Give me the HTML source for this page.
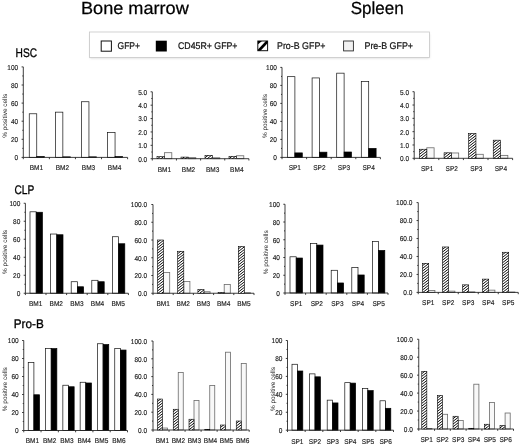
<!DOCTYPE html>
<html lang="en"><head><meta charset="utf-8"><title>Figure</title>
<style>
html,body{margin:0;padding:0;background:#fff;}
body{width:520px;height:444px;overflow:hidden;}
svg{display:block;}
.bl{filter:blur(0.45px);}
.bh{}
text{font-family:"Liberation Sans","DejaVu Sans",sans-serif;fill:#1a1a1a;text-rendering:geometricPrecision;}
.t{font-size:7.0px;stroke:#1a1a1a;stroke-width:0.15;}
.yl{font-size:6.4px;fill:#161616;}
.h{font-size:12.4px;fill:#000;stroke:#000;stroke-width:0.32;}
.ttl{font-size:17.5px;fill:#000;stroke:#000;stroke-width:0.25;}
.lg{font-size:9.7px;fill:#111;stroke:#111;stroke-width:0.22;}
.ax{stroke:#1c1c1c;stroke-width:0.85;fill:none;}
.w{fill:#fff;stroke:#111;stroke-width:0.7;}
.k{fill:#000;stroke:#000;stroke-width:0.7;}
.hh{fill:url(#hatch);stroke:#000;stroke-width:0.8;}
.p{fill:#f8f8f8;stroke:#6a6a6a;stroke-width:0.8;}
</style></head><body>
<svg width="520" height="444" viewBox="0 0 520 444">
<defs>
<pattern id="hatch" patternUnits="userSpaceOnUse" width="2.25" height="2.25" patternTransform="rotate(-45)">
<rect width="2.25" height="2.25" fill="#fff"/><rect width="2.25" height="1.25" fill="#000"/>
</pattern>
<pattern id="hatch2" patternUnits="userSpaceOnUse" width="5" height="5" patternTransform="rotate(-45)">
<rect width="5" height="5" fill="#fff"/><rect width="5" height="2.7" fill="#000"/>
</pattern>
<filter id="sh" x="-5%" y="-20%" width="110%" height="150%"><feGaussianBlur stdDeviation="0.8"/></filter>
</defs>
<rect width="520" height="444" fill="#fff"/>
<g class="bl">

<text class="ttl" x="81" y="14.3" textLength="107.8" lengthAdjust="spacingAndGlyphs">Bone marrow</text>
<text class="ttl" x="350.7" y="14.3" textLength="53" lengthAdjust="spacingAndGlyphs">Spleen</text>
<rect x="90" y="33.5" width="339.5" height="24.8" fill="#bbb" opacity="0.55" filter="url(#sh)"/>
<rect x="89.5" y="32" width="340" height="25.5" fill="#fff" stroke="#c8c8c8" stroke-width="0.8"/>
<rect x="101.2" y="41" width="10.2" height="10.2" fill="#fff" stroke="#111" stroke-width="1"/>
<text class="lg" x="117.5" y="49.3" textLength="22.5" lengthAdjust="spacingAndGlyphs">GFP+</text>
<rect x="155.8" y="40.7" width="11" height="10.8" fill="#000"/>
<text class="lg" x="178" y="49.3" textLength="59.5" lengthAdjust="spacingAndGlyphs">CD45R+ GFP+</text>
<clipPath id="sw3"><rect x="257.8" y="41" width="9.8" height="9.7"/></clipPath>
<rect x="257.8" y="41" width="9.8" height="9.7" fill="#fff" stroke="#111" stroke-width="1"/>
<g clip-path="url(#sw3)"><path d="M257.8 41h4.2l-4.2 3.6z" fill="#000"/><path d="M258.3 51.2L267.8 41" stroke="#000" stroke-width="2.7"/></g>
<text class="lg" x="277" y="49.3" textLength="48.5" lengthAdjust="spacingAndGlyphs">Pro-B GFP+</text>
<rect x="343.6" y="41" width="9.8" height="9.9" fill="#f1f1f1" stroke="#2a2a2a" stroke-width="0.9"/>
<text class="lg" x="364.5" y="49.3" textLength="48.5" lengthAdjust="spacingAndGlyphs">Pre-B GFP+</text>
<text class="h" x="15.6" y="56.8" textLength="21.5" lengthAdjust="spacingAndGlyphs">HSC</text>
<text class="h" x="14.5" y="193.6" textLength="19.8" lengthAdjust="spacingAndGlyphs">CLP</text>
<text class="h" x="13.8" y="328" textLength="30" lengthAdjust="spacingAndGlyphs">Pro-B</text>
<g>
<rect class="w" x="29.25" y="113.78" width="7.50" height="43.62"/>
<rect class="w" x="55.35" y="112.15" width="7.50" height="45.25"/>
<rect class="w" x="81.45" y="101.74" width="7.50" height="55.66"/>
<rect class="w" x="107.55" y="132.51" width="7.50" height="24.89"/>
<rect class="k" x="36.75" y="156.50" width="7.50" height="0.91"/>
<rect class="k" x="62.85" y="156.86" width="7.50" height="0.54"/>
<rect class="k" x="88.95" y="156.86" width="7.50" height="0.54"/>
<rect class="k" x="115.05" y="156.59" width="7.50" height="0.81"/>
<path class="ax" d="M23.30 66.90V157.40H127.60M21.60 157.40h1.70M22.30 148.35h1.00M21.60 139.30h1.70M22.30 130.25h1.00M21.60 121.20h1.70M22.30 112.15h1.00M21.60 103.10h1.70M22.30 94.05h1.00M21.60 85.00h1.70M22.30 75.95h1.00M21.60 66.90h1.70M23.30 157.40v1.8M49.38 157.40v1.8M75.45 157.40v1.8M101.52 157.40v1.8M127.60 157.40v1.8"/>
<text class="t" transform="translate(18.20 160.25) scale(0.93 1)" text-anchor="end">0</text>
<text class="t" transform="translate(18.20 142.15) scale(0.93 1)" text-anchor="end">20</text>
<text class="t" transform="translate(18.20 124.05) scale(0.93 1)" text-anchor="end">40</text>
<text class="t" transform="translate(18.20 105.95) scale(0.93 1)" text-anchor="end">60</text>
<text class="t" transform="translate(18.20 87.85) scale(0.93 1)" text-anchor="end">80</text>
<text class="t" transform="translate(18.20 69.75) scale(0.93 1)" text-anchor="end">100</text>
<text class="t" transform="translate(36.34 170.35) scale(0.93 1)" text-anchor="middle">BM1</text>
<text class="t" transform="translate(62.41 170.35) scale(0.93 1)" text-anchor="middle">BM2</text>
<text class="t" transform="translate(88.49 170.35) scale(0.93 1)" text-anchor="middle">BM3</text>
<text class="t" transform="translate(114.56 170.35) scale(0.93 1)" text-anchor="middle">BM4</text>
<text class="yl" transform="translate(6.60 115.85) rotate(-90)" text-anchor="middle" textLength="44" lengthAdjust="spacingAndGlyphs">% positive cells</text>
</g>
<g>
<rect class="p" x="164.40" y="152.68" width="7.40" height="6.02"/>
<rect class="p" x="188.40" y="157.63" width="7.40" height="1.07"/>
<rect class="p" x="212.40" y="157.76" width="7.40" height="0.94"/>
<rect class="p" x="236.40" y="155.76" width="7.40" height="2.94"/>
<path class="ax" d="M152.30 91.80V158.70H248.90M150.60 158.70h1.70M151.30 152.01h1.00M150.60 145.32h1.70M151.30 138.63h1.00M150.60 131.94h1.70M151.30 125.25h1.00M150.60 118.56h1.70M151.30 111.87h1.00M150.60 105.18h1.70M151.30 98.49h1.00M150.60 91.80h1.70M152.30 158.70v1.8M176.45 158.70v1.8M200.60 158.70v1.8M224.75 158.70v1.8M248.90 158.70v1.8"/>
<text class="t" transform="translate(147.20 161.55) scale(0.93 1)" text-anchor="end">0.0</text>
<text class="t" transform="translate(147.20 148.17) scale(0.93 1)" text-anchor="end">1.0</text>
<text class="t" transform="translate(147.20 134.79) scale(0.93 1)" text-anchor="end">2.0</text>
<text class="t" transform="translate(147.20 121.41) scale(0.93 1)" text-anchor="end">3.0</text>
<text class="t" transform="translate(147.20 108.03) scale(0.93 1)" text-anchor="end">4.0</text>
<text class="t" transform="translate(147.20 94.65) scale(0.93 1)" text-anchor="end">5.0</text>
<text class="t" transform="translate(164.38 171.65) scale(0.93 1)" text-anchor="middle">BM1</text>
<text class="t" transform="translate(188.53 171.65) scale(0.93 1)" text-anchor="middle">BM2</text>
<text class="t" transform="translate(212.68 171.65) scale(0.93 1)" text-anchor="middle">BM3</text>
<text class="t" transform="translate(236.82 171.65) scale(0.93 1)" text-anchor="middle">BM4</text>
</g>
<g>
<rect class="w" x="287.50" y="76.67" width="7.40" height="80.73"/>
<rect class="w" x="312.10" y="77.93" width="7.40" height="79.47"/>
<rect class="w" x="336.70" y="73.16" width="7.40" height="84.24"/>
<rect class="w" x="361.30" y="81.44" width="7.40" height="75.96"/>
<rect class="k" x="294.90" y="152.90" width="7.40" height="4.50"/>
<rect class="k" x="319.50" y="152.18" width="7.40" height="5.22"/>
<rect class="k" x="344.10" y="152.00" width="7.40" height="5.40"/>
<rect class="k" x="368.70" y="148.40" width="7.40" height="9.00"/>
<path class="ax" d="M282.00 67.40V157.40H380.40M280.30 157.40h1.70M281.00 148.40h1.00M280.30 139.40h1.70M281.00 130.40h1.00M280.30 121.40h1.70M281.00 112.40h1.00M280.30 103.40h1.70M281.00 94.40h1.00M280.30 85.40h1.70M281.00 76.40h1.00M280.30 67.40h1.70M282.00 157.40v1.8M306.60 157.40v1.8M331.20 157.40v1.8M355.80 157.40v1.8M380.40 157.40v1.8"/>
<text class="t" transform="translate(276.90 160.25) scale(0.93 1)" text-anchor="end">0</text>
<text class="t" transform="translate(276.90 142.25) scale(0.93 1)" text-anchor="end">20</text>
<text class="t" transform="translate(276.90 124.25) scale(0.93 1)" text-anchor="end">40</text>
<text class="t" transform="translate(276.90 106.25) scale(0.93 1)" text-anchor="end">60</text>
<text class="t" transform="translate(276.90 88.25) scale(0.93 1)" text-anchor="end">80</text>
<text class="t" transform="translate(276.90 70.25) scale(0.93 1)" text-anchor="end">100</text>
<text class="t" transform="translate(294.80 170.35) scale(0.93 1)" text-anchor="middle">SP1</text>
<text class="t" transform="translate(319.40 170.35) scale(0.93 1)" text-anchor="middle">SP2</text>
<text class="t" transform="translate(344.00 170.35) scale(0.93 1)" text-anchor="middle">SP3</text>
<text class="t" transform="translate(368.60 170.35) scale(0.93 1)" text-anchor="middle">SP4</text>
<text class="yl" transform="translate(266.60 116.10) rotate(-90)" text-anchor="middle" textLength="44" lengthAdjust="spacingAndGlyphs">% positive cells</text>
</g>
<g>
<rect class="p" x="426.80" y="147.78" width="7.30" height="10.52"/>
<rect class="p" x="451.38" y="152.97" width="7.30" height="5.33"/>
<rect class="p" x="475.96" y="154.30" width="7.30" height="4.00"/>
<rect class="p" x="500.54" y="155.37" width="7.30" height="2.93"/>
<path class="ax" d="M414.20 91.70V158.30H512.60M412.50 158.30h1.70M413.20 151.64h1.00M412.50 144.98h1.70M413.20 138.32h1.00M412.50 131.66h1.70M413.20 125.00h1.00M412.50 118.34h1.70M413.20 111.68h1.00M412.50 105.02h1.70M413.20 98.36h1.00M412.50 91.70h1.70M414.20 158.30v1.8M438.80 158.30v1.8M463.40 158.30v1.8M488.00 158.30v1.8M512.60 158.30v1.8"/>
<text class="t" transform="translate(409.10 161.15) scale(0.93 1)" text-anchor="end">0.0</text>
<text class="t" transform="translate(409.10 147.83) scale(0.93 1)" text-anchor="end">1.0</text>
<text class="t" transform="translate(409.10 134.51) scale(0.93 1)" text-anchor="end">2.0</text>
<text class="t" transform="translate(409.10 121.19) scale(0.93 1)" text-anchor="end">3.0</text>
<text class="t" transform="translate(409.10 107.87) scale(0.93 1)" text-anchor="end">4.0</text>
<text class="t" transform="translate(409.10 94.55) scale(0.93 1)" text-anchor="end">5.0</text>
<text class="t" transform="translate(427.10 171.25) scale(0.93 1)" text-anchor="middle">SP1</text>
<text class="t" transform="translate(451.70 171.25) scale(0.93 1)" text-anchor="middle">SP2</text>
<text class="t" transform="translate(476.30 171.25) scale(0.93 1)" text-anchor="middle">SP3</text>
<text class="t" transform="translate(500.90 171.25) scale(0.93 1)" text-anchor="middle">SP4</text>
</g>
<g>
<rect class="w" x="30.00" y="211.80" width="6.20" height="81.45"/>
<rect class="w" x="50.60" y="234.03" width="6.20" height="59.22"/>
<rect class="w" x="71.20" y="281.73" width="6.20" height="11.52"/>
<rect class="w" x="91.80" y="280.29" width="6.20" height="12.96"/>
<rect class="w" x="112.40" y="236.73" width="6.20" height="56.52"/>
<rect class="k" x="36.20" y="212.25" width="6.20" height="81.00"/>
<rect class="k" x="56.80" y="234.75" width="6.20" height="58.50"/>
<rect class="k" x="77.40" y="286.77" width="6.20" height="6.48"/>
<rect class="k" x="98.00" y="281.73" width="6.20" height="11.52"/>
<rect class="k" x="118.60" y="243.75" width="6.20" height="49.50"/>
<path class="ax" d="M25.40 203.25V293.25H128.40M23.70 293.25h1.70M24.40 284.25h1.00M23.70 275.25h1.70M24.40 266.25h1.00M23.70 257.25h1.70M24.40 248.25h1.00M23.70 239.25h1.70M24.40 230.25h1.00M23.70 221.25h1.70M24.40 212.25h1.00M23.70 203.25h1.70M25.40 293.25v1.8M46.00 293.25v1.8M66.60 293.25v1.8M87.20 293.25v1.8M107.80 293.25v1.8M128.40 293.25v1.8"/>
<text class="t" transform="translate(20.30 296.10) scale(0.93 1)" text-anchor="end">0</text>
<text class="t" transform="translate(20.30 278.10) scale(0.93 1)" text-anchor="end">20</text>
<text class="t" transform="translate(20.30 260.10) scale(0.93 1)" text-anchor="end">40</text>
<text class="t" transform="translate(20.30 242.10) scale(0.93 1)" text-anchor="end">60</text>
<text class="t" transform="translate(20.30 224.10) scale(0.93 1)" text-anchor="end">80</text>
<text class="t" transform="translate(20.30 206.10) scale(0.93 1)" text-anchor="end">100</text>
<text class="t" transform="translate(35.70 305.80) scale(0.93 1)" text-anchor="middle">BM1</text>
<text class="t" transform="translate(56.30 305.80) scale(0.93 1)" text-anchor="middle">BM2</text>
<text class="t" transform="translate(76.90 305.80) scale(0.93 1)" text-anchor="middle">BM3</text>
<text class="t" transform="translate(97.50 305.80) scale(0.93 1)" text-anchor="middle">BM4</text>
<text class="t" transform="translate(118.10 305.80) scale(0.93 1)" text-anchor="middle">BM5</text>
<text class="yl" transform="translate(7.10 251.95) rotate(-90)" text-anchor="middle" textLength="44" lengthAdjust="spacingAndGlyphs">% positive cells</text>
</g>
<g>
<rect class="p" x="163.60" y="272.48" width="6.10" height="20.77"/>
<rect class="p" x="183.80" y="281.54" width="6.10" height="11.71"/>
<rect class="p" x="204.00" y="291.74" width="6.10" height="1.51"/>
<rect class="p" x="224.20" y="284.46" width="6.10" height="8.79"/>
<rect class="p" x="244.40" y="292.72" width="6.10" height="0.53"/>
<path class="ax" d="M153.00 204.50V293.25H254.00M151.30 293.25h1.70M152.00 284.38h1.00M151.30 275.50h1.70M152.00 266.62h1.00M151.30 257.75h1.70M152.00 248.88h1.00M151.30 240.00h1.70M152.00 231.12h1.00M151.30 222.25h1.70M152.00 213.38h1.00M151.30 204.50h1.70M153.00 293.25v1.8M173.20 293.25v1.8M193.40 293.25v1.8M213.60 293.25v1.8M233.80 293.25v1.8M254.00 293.25v1.8"/>
<text class="t" transform="translate(147.10 296.10) scale(0.93 1)" text-anchor="end">0.0</text>
<text class="t" transform="translate(147.10 278.35) scale(0.93 1)" text-anchor="end">20.0</text>
<text class="t" transform="translate(147.10 260.60) scale(0.93 1)" text-anchor="end">40.0</text>
<text class="t" transform="translate(147.10 242.85) scale(0.93 1)" text-anchor="end">60.0</text>
<text class="t" transform="translate(147.10 225.10) scale(0.93 1)" text-anchor="end">80.0</text>
<text class="t" transform="translate(147.10 207.35) scale(0.93 1)" text-anchor="end">100.0</text>
<text class="t" transform="translate(163.10 305.70) scale(0.93 1)" text-anchor="middle">BM1</text>
<text class="t" transform="translate(183.30 305.70) scale(0.93 1)" text-anchor="middle">BM2</text>
<text class="t" transform="translate(203.50 305.70) scale(0.93 1)" text-anchor="middle">BM3</text>
<text class="t" transform="translate(223.70 305.70) scale(0.93 1)" text-anchor="middle">BM4</text>
<text class="t" transform="translate(243.90 305.70) scale(0.93 1)" text-anchor="middle">BM5</text>
</g>
<g>
<rect class="w" x="290.00" y="256.79" width="6.20" height="36.21"/>
<rect class="w" x="310.60" y="243.48" width="6.20" height="49.52"/>
<rect class="w" x="331.20" y="270.28" width="6.20" height="22.72"/>
<rect class="w" x="351.80" y="267.53" width="6.20" height="25.47"/>
<rect class="w" x="372.40" y="241.53" width="6.20" height="51.47"/>
<rect class="k" x="296.20" y="258.03" width="6.20" height="34.97"/>
<rect class="k" x="316.80" y="245.07" width="6.20" height="47.93"/>
<rect class="k" x="337.40" y="282.97" width="6.20" height="10.03"/>
<rect class="k" x="358.00" y="274.98" width="6.20" height="18.02"/>
<rect class="k" x="378.60" y="250.49" width="6.20" height="42.51"/>
<path class="ax" d="M285.00 204.25V293.00H388.00M283.30 293.00h1.70M284.00 284.12h1.00M283.30 275.25h1.70M284.00 266.38h1.00M283.30 257.50h1.70M284.00 248.62h1.00M283.30 239.75h1.70M284.00 230.88h1.00M283.30 222.00h1.70M284.00 213.12h1.00M283.30 204.25h1.70M285.00 293.00v1.8M305.60 293.00v1.8M326.20 293.00v1.8M346.80 293.00v1.8M367.40 293.00v1.8M388.00 293.00v1.8"/>
<text class="t" transform="translate(279.90 295.85) scale(0.93 1)" text-anchor="end">0</text>
<text class="t" transform="translate(279.90 278.10) scale(0.93 1)" text-anchor="end">20</text>
<text class="t" transform="translate(279.90 260.35) scale(0.93 1)" text-anchor="end">40</text>
<text class="t" transform="translate(279.90 242.60) scale(0.93 1)" text-anchor="end">60</text>
<text class="t" transform="translate(279.90 224.85) scale(0.93 1)" text-anchor="end">80</text>
<text class="t" transform="translate(279.90 207.10) scale(0.93 1)" text-anchor="end">100</text>
<text class="t" transform="translate(296.20 305.95) scale(0.93 1)" text-anchor="middle">SP1</text>
<text class="t" transform="translate(316.80 305.95) scale(0.93 1)" text-anchor="middle">SP2</text>
<text class="t" transform="translate(337.40 305.95) scale(0.93 1)" text-anchor="middle">SP3</text>
<text class="t" transform="translate(358.00 305.95) scale(0.93 1)" text-anchor="middle">SP4</text>
<text class="t" transform="translate(378.60 305.95) scale(0.93 1)" text-anchor="middle">SP5</text>
<text class="yl" transform="translate(268.35 252.32) rotate(-90)" text-anchor="middle" textLength="44" lengthAdjust="spacingAndGlyphs">% positive cells</text>
</g>
<g>
<rect class="p" x="428.70" y="290.42" width="6.20" height="1.98"/>
<rect class="p" x="448.70" y="291.14" width="6.20" height="1.26"/>
<rect class="p" x="468.70" y="291.86" width="6.20" height="0.54"/>
<rect class="p" x="488.70" y="290.15" width="6.20" height="2.24"/>
<rect class="p" x="508.70" y="292.00" width="6.20" height="0.40"/>
<path class="ax" d="M418.25 202.60V292.40H518.25M416.55 292.40h1.70M417.25 283.42h1.00M416.55 274.44h1.70M417.25 265.46h1.00M416.55 256.48h1.70M417.25 247.50h1.00M416.55 238.52h1.70M417.25 229.54h1.00M416.55 220.56h1.70M417.25 211.58h1.00M416.55 202.60h1.70M418.25 292.40v1.8M438.25 292.40v1.8M458.25 292.40v1.8M478.25 292.40v1.8M498.25 292.40v1.8M518.25 292.40v1.8"/>
<text class="t" transform="translate(412.35 295.25) scale(0.93 1)" text-anchor="end">0.0</text>
<text class="t" transform="translate(412.35 277.29) scale(0.93 1)" text-anchor="end">20.0</text>
<text class="t" transform="translate(412.35 259.33) scale(0.93 1)" text-anchor="end">40.0</text>
<text class="t" transform="translate(412.35 241.37) scale(0.93 1)" text-anchor="end">60.0</text>
<text class="t" transform="translate(412.35 223.41) scale(0.93 1)" text-anchor="end">80.0</text>
<text class="t" transform="translate(412.35 205.45) scale(0.93 1)" text-anchor="end">100.0</text>
<text class="t" transform="translate(428.25 304.55) scale(0.93 1)" text-anchor="middle">SP1</text>
<text class="t" transform="translate(448.25 304.55) scale(0.93 1)" text-anchor="middle">SP2</text>
<text class="t" transform="translate(468.25 304.55) scale(0.93 1)" text-anchor="middle">SP3</text>
<text class="t" transform="translate(488.25 304.55) scale(0.93 1)" text-anchor="middle">SP4</text>
<text class="t" transform="translate(508.25 304.55) scale(0.93 1)" text-anchor="middle">SP5</text>
</g>
<g>
<rect class="w" x="28.25" y="362.55" width="5.65" height="67.95"/>
<rect class="w" x="45.55" y="348.60" width="5.65" height="81.90"/>
<rect class="w" x="62.85" y="385.23" width="5.65" height="45.27"/>
<rect class="w" x="80.15" y="382.26" width="5.65" height="48.24"/>
<rect class="w" x="97.45" y="343.74" width="5.65" height="86.76"/>
<rect class="w" x="114.75" y="348.60" width="5.65" height="81.90"/>
<rect class="k" x="33.90" y="394.77" width="5.65" height="35.73"/>
<rect class="k" x="51.20" y="348.60" width="5.65" height="81.90"/>
<rect class="k" x="68.50" y="386.76" width="5.65" height="43.74"/>
<rect class="k" x="85.80" y="382.98" width="5.65" height="47.52"/>
<rect class="k" x="103.10" y="344.55" width="5.65" height="85.95"/>
<rect class="k" x="120.40" y="350.04" width="5.65" height="80.46"/>
<path class="ax" d="M23.75 340.50V430.50H127.50M22.05 430.50h1.70M22.75 421.50h1.00M22.05 412.50h1.70M22.75 403.50h1.00M22.05 394.50h1.70M22.75 385.50h1.00M22.05 376.50h1.70M22.75 367.50h1.00M22.05 358.50h1.70M22.75 349.50h1.00M22.05 340.50h1.70M23.75 430.50v1.8M41.04 430.50v1.8M58.33 430.50v1.8M75.62 430.50v1.8M92.92 430.50v1.8M110.21 430.50v1.8M127.50 430.50v1.8"/>
<text class="t" transform="translate(18.65 433.35) scale(0.93 1)" text-anchor="end">0</text>
<text class="t" transform="translate(18.65 415.35) scale(0.93 1)" text-anchor="end">20</text>
<text class="t" transform="translate(18.65 397.35) scale(0.93 1)" text-anchor="end">40</text>
<text class="t" transform="translate(18.65 379.35) scale(0.93 1)" text-anchor="end">60</text>
<text class="t" transform="translate(18.65 361.35) scale(0.93 1)" text-anchor="end">80</text>
<text class="t" transform="translate(18.65 343.35) scale(0.93 1)" text-anchor="end">100</text>
<text class="t" transform="translate(32.40 443.45) scale(0.93 1)" text-anchor="middle">BM1</text>
<text class="t" transform="translate(49.69 443.45) scale(0.93 1)" text-anchor="middle">BM2</text>
<text class="t" transform="translate(66.98 443.45) scale(0.93 1)" text-anchor="middle">BM3</text>
<text class="t" transform="translate(84.27 443.45) scale(0.93 1)" text-anchor="middle">BM4</text>
<text class="t" transform="translate(101.56 443.45) scale(0.93 1)" text-anchor="middle">BM5</text>
<text class="t" transform="translate(118.85 443.45) scale(0.93 1)" text-anchor="middle">BM6</text>
<text class="yl" transform="translate(6.60 389.20) rotate(-90)" text-anchor="middle" textLength="44" lengthAdjust="spacingAndGlyphs">% positive cells</text>
</g>
<g>
<rect class="p" x="162.50" y="428.04" width="5.00" height="1.96"/>
<rect class="p" x="178.25" y="372.51" width="5.00" height="57.49"/>
<rect class="p" x="194.00" y="400.54" width="5.00" height="29.46"/>
<rect class="p" x="209.75" y="385.50" width="5.00" height="44.50"/>
<rect class="p" x="225.50" y="352.21" width="5.00" height="77.79"/>
<rect class="p" x="241.25" y="363.52" width="5.00" height="66.48"/>
<path class="ax" d="M153.00 341.00V430.00H249.20M151.30 430.00h1.70M152.00 421.10h1.00M151.30 412.20h1.70M152.00 403.30h1.00M151.30 394.40h1.70M152.00 385.50h1.00M151.30 376.60h1.70M152.00 367.70h1.00M151.30 358.80h1.70M152.00 349.90h1.00M151.30 341.00h1.70M153.00 430.00v1.8M169.03 430.00v1.8M185.07 430.00v1.8M201.10 430.00v1.8M217.13 430.00v1.8M233.17 430.00v1.8M249.20 430.00v1.8"/>
<text class="t" transform="translate(147.10 432.85) scale(0.93 1)" text-anchor="end">0.0</text>
<text class="t" transform="translate(147.10 415.05) scale(0.93 1)" text-anchor="end">20.0</text>
<text class="t" transform="translate(147.10 397.25) scale(0.93 1)" text-anchor="end">40.0</text>
<text class="t" transform="translate(147.10 379.45) scale(0.93 1)" text-anchor="end">60.0</text>
<text class="t" transform="translate(147.10 361.65) scale(0.93 1)" text-anchor="end">80.0</text>
<text class="t" transform="translate(147.10 343.85) scale(0.93 1)" text-anchor="end">100.0</text>
<text class="t" transform="translate(162.42 442.95) scale(0.93 1)" text-anchor="middle">BM1</text>
<text class="t" transform="translate(178.45 442.95) scale(0.93 1)" text-anchor="middle">BM2</text>
<text class="t" transform="translate(194.48 442.95) scale(0.93 1)" text-anchor="middle">BM3</text>
<text class="t" transform="translate(210.52 442.95) scale(0.93 1)" text-anchor="middle">BM4</text>
<text class="t" transform="translate(226.55 442.95) scale(0.93 1)" text-anchor="middle">BM5</text>
<text class="t" transform="translate(242.58 442.95) scale(0.93 1)" text-anchor="middle">BM6</text>
</g>
<g>
<rect class="w" x="292.00" y="364.27" width="5.40" height="65.93"/>
<rect class="w" x="309.60" y="373.87" width="5.40" height="56.33"/>
<rect class="w" x="327.20" y="400.15" width="5.40" height="30.05"/>
<rect class="w" x="344.80" y="382.66" width="5.40" height="47.54"/>
<rect class="w" x="362.40" y="388.58" width="5.40" height="41.62"/>
<rect class="w" x="380.00" y="400.78" width="5.40" height="29.42"/>
<rect class="k" x="297.40" y="371.00" width="5.40" height="59.20"/>
<rect class="k" x="315.00" y="376.83" width="5.40" height="53.37"/>
<rect class="k" x="332.60" y="402.93" width="5.40" height="27.27"/>
<rect class="k" x="350.20" y="383.11" width="5.40" height="47.09"/>
<rect class="k" x="367.80" y="390.64" width="5.40" height="39.56"/>
<rect class="k" x="385.40" y="408.31" width="5.40" height="21.89"/>
<path class="ax" d="M287.50 340.50V430.20H393.50M285.80 430.20h1.70M286.50 421.23h1.00M285.80 412.26h1.70M286.50 403.29h1.00M285.80 394.32h1.70M286.50 385.35h1.00M285.80 376.38h1.70M286.50 367.41h1.00M285.80 358.44h1.70M286.50 349.47h1.00M285.80 340.50h1.70M287.50 430.20v1.8M305.17 430.20v1.8M322.83 430.20v1.8M340.50 430.20v1.8M358.17 430.20v1.8M375.83 430.20v1.8M393.50 430.20v1.8"/>
<text class="t" transform="translate(282.40 433.05) scale(0.93 1)" text-anchor="end">0</text>
<text class="t" transform="translate(282.40 415.11) scale(0.93 1)" text-anchor="end">20</text>
<text class="t" transform="translate(282.40 397.17) scale(0.93 1)" text-anchor="end">40</text>
<text class="t" transform="translate(282.40 379.23) scale(0.93 1)" text-anchor="end">60</text>
<text class="t" transform="translate(282.40 361.29) scale(0.93 1)" text-anchor="end">80</text>
<text class="t" transform="translate(282.40 343.35) scale(0.93 1)" text-anchor="end">100</text>
<text class="t" transform="translate(297.33 443.65) scale(0.93 1)" text-anchor="middle">SP1</text>
<text class="t" transform="translate(315.00 443.65) scale(0.93 1)" text-anchor="middle">SP2</text>
<text class="t" transform="translate(332.67 443.65) scale(0.93 1)" text-anchor="middle">SP3</text>
<text class="t" transform="translate(350.33 443.65) scale(0.93 1)" text-anchor="middle">SP4</text>
<text class="t" transform="translate(368.00 443.65) scale(0.93 1)" text-anchor="middle">SP5</text>
<text class="t" transform="translate(385.67 443.65) scale(0.93 1)" text-anchor="middle">SP6</text>
<text class="yl" transform="translate(275.10 389.05) rotate(-90)" text-anchor="middle" textLength="44" lengthAdjust="spacingAndGlyphs">% positive cells</text>
</g>
<g>
<rect class="p" x="426.85" y="428.55" width="5.10" height="0.45"/>
<rect class="p" x="442.50" y="414.28" width="5.10" height="14.72"/>
<rect class="p" x="458.15" y="420.47" width="5.10" height="8.53"/>
<rect class="p" x="473.80" y="384.21" width="5.10" height="44.79"/>
<rect class="p" x="489.45" y="402.52" width="5.10" height="26.48"/>
<rect class="p" x="505.10" y="413.02" width="5.10" height="15.98"/>
<path class="ax" d="M418.75 339.25V429.00H513.50M417.05 429.00h1.70M417.75 420.02h1.00M417.05 411.05h1.70M417.75 402.07h1.00M417.05 393.10h1.70M417.75 384.12h1.00M417.05 375.15h1.70M417.75 366.18h1.00M417.05 357.20h1.70M417.75 348.23h1.00M417.05 339.25h1.70M418.75 429.00v1.8M434.54 429.00v1.8M450.33 429.00v1.8M466.12 429.00v1.8M481.92 429.00v1.8M497.71 429.00v1.8M513.50 429.00v1.8"/>
<text class="t" transform="translate(412.85 431.85) scale(0.93 1)" text-anchor="end">0.0</text>
<text class="t" transform="translate(412.85 413.90) scale(0.93 1)" text-anchor="end">20.0</text>
<text class="t" transform="translate(412.85 395.95) scale(0.93 1)" text-anchor="end">40.0</text>
<text class="t" transform="translate(412.85 378.00) scale(0.93 1)" text-anchor="end">60.0</text>
<text class="t" transform="translate(412.85 360.05) scale(0.93 1)" text-anchor="end">80.0</text>
<text class="t" transform="translate(412.85 342.10) scale(0.93 1)" text-anchor="end">100.0</text>
<text class="t" transform="translate(426.65 441.95) scale(0.93 1)" text-anchor="middle">SP1</text>
<text class="t" transform="translate(442.44 441.95) scale(0.93 1)" text-anchor="middle">SP2</text>
<text class="t" transform="translate(458.23 441.95) scale(0.93 1)" text-anchor="middle">SP3</text>
<text class="t" transform="translate(474.02 441.95) scale(0.93 1)" text-anchor="middle">SP4</text>
<text class="t" transform="translate(489.81 441.95) scale(0.93 1)" text-anchor="middle">SP5</text>
<text class="t" transform="translate(505.60 441.95) scale(0.93 1)" text-anchor="middle">SP6</text>
</g>
</g>
<g class="bh">
<clipPath id="c0"><rect x="157.00" y="156.69" width="7.40" height="2.01"/></clipPath><rect x="157.00" y="156.69" width="7.40" height="2.01" fill="#fff"/><path d="M156.50 156.78l8.40 -6.55M156.50 159.48l8.40 -6.55M156.50 162.18l8.40 -6.55M156.50 164.88l8.40 -6.55" clip-path="url(#c0)" stroke="#000" stroke-width="0.95" fill="none"/><rect x="157.00" y="156.69" width="7.40" height="2.01" fill="none" stroke="#000" stroke-width="0.6"/>
<clipPath id="c1"><rect x="181.00" y="157.09" width="7.40" height="1.61"/></clipPath><rect x="181.00" y="157.09" width="7.40" height="1.61" fill="#fff"/><path d="M180.50 157.18l8.40 -6.55M180.50 159.88l8.40 -6.55M180.50 162.58l8.40 -6.55M180.50 165.28l8.40 -6.55" clip-path="url(#c1)" stroke="#000" stroke-width="0.95" fill="none"/><rect x="181.00" y="157.09" width="7.40" height="1.61" fill="none" stroke="#000" stroke-width="0.6"/>
<clipPath id="c2"><rect x="205.00" y="155.35" width="7.40" height="3.34"/></clipPath><rect x="205.00" y="155.35" width="7.40" height="3.34" fill="#fff"/><path d="M204.50 155.44l8.40 -6.55M204.50 158.14l8.40 -6.55M204.50 160.84l8.40 -6.55M204.50 163.54l8.40 -6.55M204.50 166.24l8.40 -6.55" clip-path="url(#c2)" stroke="#000" stroke-width="0.95" fill="none"/><rect x="205.00" y="155.35" width="7.40" height="3.34" fill="none" stroke="#000" stroke-width="0.6"/>
<clipPath id="c3"><rect x="229.00" y="156.29" width="7.40" height="2.41"/></clipPath><rect x="229.00" y="156.29" width="7.40" height="2.41" fill="#fff"/><path d="M228.50 156.38l8.40 -6.55M228.50 159.08l8.40 -6.55M228.50 161.78l8.40 -6.55M228.50 164.48l8.40 -6.55M228.50 167.18l8.40 -6.55" clip-path="url(#c3)" stroke="#000" stroke-width="0.95" fill="none"/><rect x="229.00" y="156.29" width="7.40" height="2.41" fill="none" stroke="#000" stroke-width="0.6"/>
<clipPath id="c4"><rect x="419.50" y="149.24" width="7.30" height="9.06"/></clipPath><rect x="419.50" y="149.24" width="7.30" height="9.06" fill="#fff"/><path d="M419.00 149.33l8.30 -6.47M419.00 152.03l8.30 -6.47M419.00 154.73l8.30 -6.47M419.00 157.43l8.30 -6.47M419.00 160.13l8.30 -6.47M419.00 162.83l8.30 -6.47M419.00 165.53l8.30 -6.47" clip-path="url(#c4)" stroke="#000" stroke-width="0.95" fill="none"/><rect x="419.50" y="149.24" width="7.30" height="9.06" fill="none" stroke="#000" stroke-width="0.6"/>
<clipPath id="c5"><rect x="444.08" y="152.84" width="7.30" height="5.46"/></clipPath><rect x="444.08" y="152.84" width="7.30" height="5.46" fill="#fff"/><path d="M443.58 152.93l8.30 -6.47M443.58 155.63l8.30 -6.47M443.58 158.33l8.30 -6.47M443.58 161.03l8.30 -6.47M443.58 163.73l8.30 -6.47M443.58 166.43l8.30 -6.47" clip-path="url(#c5)" stroke="#000" stroke-width="0.95" fill="none"/><rect x="444.08" y="152.84" width="7.30" height="5.46" fill="none" stroke="#000" stroke-width="0.6"/>
<clipPath id="c6"><rect x="468.66" y="133.39" width="7.30" height="24.91"/></clipPath><rect x="468.66" y="133.39" width="7.30" height="24.91" fill="#fff"/><path d="M468.16 133.48l8.30 -6.47M468.16 136.18l8.30 -6.47M468.16 138.88l8.30 -6.47M468.16 141.58l8.30 -6.47M468.16 144.28l8.30 -6.47M468.16 146.98l8.30 -6.47M468.16 149.68l8.30 -6.47M468.16 152.38l8.30 -6.47M468.16 155.08l8.30 -6.47M468.16 157.78l8.30 -6.47M468.16 160.48l8.30 -6.47M468.16 163.18l8.30 -6.47M468.16 165.88l8.30 -6.47" clip-path="url(#c6)" stroke="#000" stroke-width="0.95" fill="none"/><rect x="468.66" y="133.39" width="7.30" height="24.91" fill="none" stroke="#000" stroke-width="0.6"/>
<clipPath id="c7"><rect x="493.24" y="140.18" width="7.30" height="18.12"/></clipPath><rect x="493.24" y="140.18" width="7.30" height="18.12" fill="#fff"/><path d="M492.74 140.27l8.30 -6.47M492.74 142.97l8.30 -6.47M492.74 145.67l8.30 -6.47M492.74 148.37l8.30 -6.47M492.74 151.07l8.30 -6.47M492.74 153.77l8.30 -6.47M492.74 156.47l8.30 -6.47M492.74 159.17l8.30 -6.47M492.74 161.87l8.30 -6.47M492.74 164.57l8.30 -6.47" clip-path="url(#c7)" stroke="#000" stroke-width="0.95" fill="none"/><rect x="493.24" y="140.18" width="7.30" height="18.12" fill="none" stroke="#000" stroke-width="0.6"/>
<clipPath id="c8"><rect x="157.50" y="240.00" width="6.10" height="53.25"/></clipPath><rect x="157.50" y="240.00" width="6.10" height="53.25" fill="#fff"/><path d="M157.00 240.09l7.10 -5.54M157.00 242.79l7.10 -5.54M157.00 245.49l7.10 -5.54M157.00 248.19l7.10 -5.54M157.00 250.89l7.10 -5.54M157.00 253.59l7.10 -5.54M157.00 256.29l7.10 -5.54M157.00 258.99l7.10 -5.54M157.00 261.69l7.10 -5.54M157.00 264.39l7.10 -5.54M157.00 267.09l7.10 -5.54M157.00 269.79l7.10 -5.54M157.00 272.49l7.10 -5.54M157.00 275.19l7.10 -5.54M157.00 277.89l7.10 -5.54M157.00 280.59l7.10 -5.54M157.00 283.29l7.10 -5.54M157.00 285.99l7.10 -5.54M157.00 288.69l7.10 -5.54M157.00 291.39l7.10 -5.54M157.00 294.09l7.10 -5.54M157.00 296.79l7.10 -5.54M157.00 299.49l7.10 -5.54" clip-path="url(#c8)" stroke="#000" stroke-width="0.95" fill="none"/><rect x="157.50" y="240.00" width="6.10" height="53.25" fill="none" stroke="#000" stroke-width="0.6"/>
<clipPath id="c9"><rect x="177.70" y="251.27" width="6.10" height="41.98"/></clipPath><rect x="177.70" y="251.27" width="6.10" height="41.98" fill="#fff"/><path d="M177.20 251.36l7.10 -5.54M177.20 254.06l7.10 -5.54M177.20 256.76l7.10 -5.54M177.20 259.46l7.10 -5.54M177.20 262.16l7.10 -5.54M177.20 264.86l7.10 -5.54M177.20 267.56l7.10 -5.54M177.20 270.26l7.10 -5.54M177.20 272.96l7.10 -5.54M177.20 275.66l7.10 -5.54M177.20 278.36l7.10 -5.54M177.20 281.06l7.10 -5.54M177.20 283.76l7.10 -5.54M177.20 286.46l7.10 -5.54M177.20 289.16l7.10 -5.54M177.20 291.86l7.10 -5.54M177.20 294.56l7.10 -5.54M177.20 297.26l7.10 -5.54M177.20 299.96l7.10 -5.54" clip-path="url(#c9)" stroke="#000" stroke-width="0.95" fill="none"/><rect x="177.70" y="251.27" width="6.10" height="41.98" fill="none" stroke="#000" stroke-width="0.6"/>
<clipPath id="c10"><rect x="197.90" y="289.52" width="6.10" height="3.73"/></clipPath><rect x="197.90" y="289.52" width="6.10" height="3.73" fill="#fff"/><path d="M197.40 289.61l7.10 -5.54M197.40 292.31l7.10 -5.54M197.40 295.01l7.10 -5.54M197.40 297.71l7.10 -5.54M197.40 300.41l7.10 -5.54" clip-path="url(#c10)" stroke="#000" stroke-width="0.95" fill="none"/><rect x="197.90" y="289.52" width="6.10" height="3.73" fill="none" stroke="#000" stroke-width="0.6"/>
<clipPath id="c11"><rect x="218.10" y="292.54" width="6.10" height="0.71"/></clipPath><rect x="218.10" y="292.54" width="6.10" height="0.71" fill="#fff"/><path d="M217.60 292.63l7.10 -5.54M217.60 295.33l7.10 -5.54M217.60 298.03l7.10 -5.54M217.60 300.73l7.10 -5.54" clip-path="url(#c11)" stroke="#000" stroke-width="0.95" fill="none"/><rect x="218.10" y="292.54" width="6.10" height="0.71" fill="none" stroke="#000" stroke-width="0.6"/>
<clipPath id="c12"><rect x="238.30" y="246.48" width="6.10" height="46.77"/></clipPath><rect x="238.30" y="246.48" width="6.10" height="46.77" fill="#fff"/><path d="M237.80 246.57l7.10 -5.54M237.80 249.27l7.10 -5.54M237.80 251.97l7.10 -5.54M237.80 254.67l7.10 -5.54M237.80 257.37l7.10 -5.54M237.80 260.07l7.10 -5.54M237.80 262.77l7.10 -5.54M237.80 265.47l7.10 -5.54M237.80 268.17l7.10 -5.54M237.80 270.87l7.10 -5.54M237.80 273.57l7.10 -5.54M237.80 276.27l7.10 -5.54M237.80 278.97l7.10 -5.54M237.80 281.67l7.10 -5.54M237.80 284.37l7.10 -5.54M237.80 287.07l7.10 -5.54M237.80 289.77l7.10 -5.54M237.80 292.47l7.10 -5.54M237.80 295.17l7.10 -5.54M237.80 297.87l7.10 -5.54M237.80 300.57l7.10 -5.54" clip-path="url(#c12)" stroke="#000" stroke-width="0.95" fill="none"/><rect x="238.30" y="246.48" width="6.10" height="46.77" fill="none" stroke="#000" stroke-width="0.6"/>
<clipPath id="c13"><rect x="422.50" y="263.30" width="6.20" height="29.10"/></clipPath><rect x="422.50" y="263.30" width="6.20" height="29.10" fill="#fff"/><path d="M422.00 263.39l7.20 -5.62M422.00 266.09l7.20 -5.62M422.00 268.79l7.20 -5.62M422.00 271.49l7.20 -5.62M422.00 274.19l7.20 -5.62M422.00 276.89l7.20 -5.62M422.00 279.59l7.20 -5.62M422.00 282.29l7.20 -5.62M422.00 284.99l7.20 -5.62M422.00 287.69l7.20 -5.62M422.00 290.39l7.20 -5.62M422.00 293.09l7.20 -5.62M422.00 295.79l7.20 -5.62M422.00 298.49l7.20 -5.62" clip-path="url(#c13)" stroke="#000" stroke-width="0.95" fill="none"/><rect x="422.50" y="263.30" width="6.20" height="29.10" fill="none" stroke="#000" stroke-width="0.6"/>
<clipPath id="c14"><rect x="442.50" y="246.96" width="6.20" height="45.44"/></clipPath><rect x="442.50" y="246.96" width="6.20" height="45.44" fill="#fff"/><path d="M442.00 247.05l7.20 -5.62M442.00 249.75l7.20 -5.62M442.00 252.45l7.20 -5.62M442.00 255.15l7.20 -5.62M442.00 257.85l7.20 -5.62M442.00 260.55l7.20 -5.62M442.00 263.25l7.20 -5.62M442.00 265.95l7.20 -5.62M442.00 268.65l7.20 -5.62M442.00 271.35l7.20 -5.62M442.00 274.05l7.20 -5.62M442.00 276.75l7.20 -5.62M442.00 279.45l7.20 -5.62M442.00 282.15l7.20 -5.62M442.00 284.85l7.20 -5.62M442.00 287.55l7.20 -5.62M442.00 290.25l7.20 -5.62M442.00 292.95l7.20 -5.62M442.00 295.65l7.20 -5.62M442.00 298.35l7.20 -5.62" clip-path="url(#c14)" stroke="#000" stroke-width="0.95" fill="none"/><rect x="442.50" y="246.96" width="6.20" height="45.44" fill="none" stroke="#000" stroke-width="0.6"/>
<clipPath id="c15"><rect x="462.50" y="284.86" width="6.20" height="7.54"/></clipPath><rect x="462.50" y="284.86" width="6.20" height="7.54" fill="#fff"/><path d="M462.00 284.95l7.20 -5.62M462.00 287.65l7.20 -5.62M462.00 290.35l7.20 -5.62M462.00 293.05l7.20 -5.62M462.00 295.75l7.20 -5.62M462.00 298.45l7.20 -5.62" clip-path="url(#c15)" stroke="#000" stroke-width="0.95" fill="none"/><rect x="462.50" y="284.86" width="6.20" height="7.54" fill="none" stroke="#000" stroke-width="0.6"/>
<clipPath id="c16"><rect x="482.50" y="279.11" width="6.20" height="13.29"/></clipPath><rect x="482.50" y="279.11" width="6.20" height="13.29" fill="#fff"/><path d="M482.00 279.20l7.20 -5.62M482.00 281.90l7.20 -5.62M482.00 284.60l7.20 -5.62M482.00 287.30l7.20 -5.62M482.00 290.00l7.20 -5.62M482.00 292.70l7.20 -5.62M482.00 295.40l7.20 -5.62M482.00 298.10l7.20 -5.62" clip-path="url(#c16)" stroke="#000" stroke-width="0.95" fill="none"/><rect x="482.50" y="279.11" width="6.20" height="13.29" fill="none" stroke="#000" stroke-width="0.6"/>
<clipPath id="c17"><rect x="502.50" y="252.26" width="6.20" height="40.14"/></clipPath><rect x="502.50" y="252.26" width="6.20" height="40.14" fill="#fff"/><path d="M502.00 252.35l7.20 -5.62M502.00 255.05l7.20 -5.62M502.00 257.75l7.20 -5.62M502.00 260.45l7.20 -5.62M502.00 263.15l7.20 -5.62M502.00 265.85l7.20 -5.62M502.00 268.55l7.20 -5.62M502.00 271.25l7.20 -5.62M502.00 273.95l7.20 -5.62M502.00 276.65l7.20 -5.62M502.00 279.35l7.20 -5.62M502.00 282.05l7.20 -5.62M502.00 284.75l7.20 -5.62M502.00 287.45l7.20 -5.62M502.00 290.15l7.20 -5.62M502.00 292.85l7.20 -5.62M502.00 295.55l7.20 -5.62M502.00 298.25l7.20 -5.62" clip-path="url(#c17)" stroke="#000" stroke-width="0.95" fill="none"/><rect x="502.50" y="252.26" width="6.20" height="40.14" fill="none" stroke="#000" stroke-width="0.6"/>
<clipPath id="c18"><rect x="157.50" y="399.03" width="5.00" height="30.97"/></clipPath><rect x="157.50" y="399.03" width="5.00" height="30.97" fill="#fff"/><path d="M157.00 399.12l6.00 -4.68M157.00 401.82l6.00 -4.68M157.00 404.52l6.00 -4.68M157.00 407.22l6.00 -4.68M157.00 409.92l6.00 -4.68M157.00 412.62l6.00 -4.68M157.00 415.32l6.00 -4.68M157.00 418.02l6.00 -4.68M157.00 420.72l6.00 -4.68M157.00 423.42l6.00 -4.68M157.00 426.12l6.00 -4.68M157.00 428.82l6.00 -4.68M157.00 431.52l6.00 -4.68M157.00 434.22l6.00 -4.68" clip-path="url(#c18)" stroke="#000" stroke-width="0.95" fill="none"/><rect x="157.50" y="399.03" width="5.00" height="30.97" fill="none" stroke="#000" stroke-width="0.6"/>
<clipPath id="c19"><rect x="173.25" y="409.26" width="5.00" height="20.74"/></clipPath><rect x="173.25" y="409.26" width="5.00" height="20.74" fill="#fff"/><path d="M172.75 409.35l6.00 -4.68M172.75 412.05l6.00 -4.68M172.75 414.75l6.00 -4.68M172.75 417.45l6.00 -4.68M172.75 420.15l6.00 -4.68M172.75 422.85l6.00 -4.68M172.75 425.55l6.00 -4.68M172.75 428.25l6.00 -4.68M172.75 430.95l6.00 -4.68M172.75 433.65l6.00 -4.68M172.75 436.35l6.00 -4.68" clip-path="url(#c19)" stroke="#000" stroke-width="0.95" fill="none"/><rect x="173.25" y="409.26" width="5.00" height="20.74" fill="none" stroke="#000" stroke-width="0.6"/>
<clipPath id="c20"><rect x="189.00" y="419.23" width="5.00" height="10.77"/></clipPath><rect x="189.00" y="419.23" width="5.00" height="10.77" fill="#fff"/><path d="M188.50 419.32l6.00 -4.68M188.50 422.02l6.00 -4.68M188.50 424.72l6.00 -4.68M188.50 427.42l6.00 -4.68M188.50 430.12l6.00 -4.68M188.50 432.82l6.00 -4.68M188.50 435.52l6.00 -4.68" clip-path="url(#c20)" stroke="#000" stroke-width="0.95" fill="none"/><rect x="189.00" y="419.23" width="5.00" height="10.77" fill="none" stroke="#000" stroke-width="0.6"/>
<clipPath id="c21"><rect x="204.75" y="429.29" width="5.00" height="0.71"/></clipPath><rect x="204.75" y="429.29" width="5.00" height="0.71" fill="#fff"/><path d="M204.25 429.38l6.00 -4.68M204.25 432.08l6.00 -4.68M204.25 434.78l6.00 -4.68" clip-path="url(#c21)" stroke="#000" stroke-width="0.95" fill="none"/><rect x="204.75" y="429.29" width="5.00" height="0.71" fill="none" stroke="#000" stroke-width="0.6"/>
<clipPath id="c22"><rect x="220.50" y="425.02" width="5.00" height="4.98"/></clipPath><rect x="220.50" y="425.02" width="5.00" height="4.98" fill="#fff"/><path d="M220.00 425.11l6.00 -4.68M220.00 427.81l6.00 -4.68M220.00 430.51l6.00 -4.68M220.00 433.21l6.00 -4.68M220.00 435.91l6.00 -4.68" clip-path="url(#c22)" stroke="#000" stroke-width="0.95" fill="none"/><rect x="220.50" y="425.02" width="5.00" height="4.98" fill="none" stroke="#000" stroke-width="0.6"/>
<clipPath id="c23"><rect x="236.25" y="421.01" width="5.00" height="8.99"/></clipPath><rect x="236.25" y="421.01" width="5.00" height="8.99" fill="#fff"/><path d="M235.75 421.10l6.00 -4.68M235.75 423.80l6.00 -4.68M235.75 426.50l6.00 -4.68M235.75 429.20l6.00 -4.68M235.75 431.90l6.00 -4.68M235.75 434.60l6.00 -4.68" clip-path="url(#c23)" stroke="#000" stroke-width="0.95" fill="none"/><rect x="236.25" y="421.01" width="5.00" height="8.99" fill="none" stroke="#000" stroke-width="0.6"/>
<clipPath id="c24"><rect x="421.75" y="371.29" width="5.10" height="57.71"/></clipPath><rect x="421.75" y="371.29" width="5.10" height="57.71" fill="#fff"/><path d="M421.25 371.38l6.10 -4.76M421.25 374.08l6.10 -4.76M421.25 376.78l6.10 -4.76M421.25 379.48l6.10 -4.76M421.25 382.18l6.10 -4.76M421.25 384.88l6.10 -4.76M421.25 387.58l6.10 -4.76M421.25 390.28l6.10 -4.76M421.25 392.98l6.10 -4.76M421.25 395.68l6.10 -4.76M421.25 398.38l6.10 -4.76M421.25 401.08l6.10 -4.76M421.25 403.78l6.10 -4.76M421.25 406.48l6.10 -4.76M421.25 409.18l6.10 -4.76M421.25 411.88l6.10 -4.76M421.25 414.58l6.10 -4.76M421.25 417.28l6.10 -4.76M421.25 419.98l6.10 -4.76M421.25 422.68l6.10 -4.76M421.25 425.38l6.10 -4.76M421.25 428.08l6.10 -4.76M421.25 430.78l6.10 -4.76M421.25 433.48l6.10 -4.76" clip-path="url(#c24)" stroke="#000" stroke-width="0.95" fill="none"/><rect x="421.75" y="371.29" width="5.10" height="57.71" fill="none" stroke="#000" stroke-width="0.6"/>
<clipPath id="c25"><rect x="437.40" y="395.52" width="5.10" height="33.48"/></clipPath><rect x="437.40" y="395.52" width="5.10" height="33.48" fill="#fff"/><path d="M436.90 395.61l6.10 -4.76M436.90 398.31l6.10 -4.76M436.90 401.01l6.10 -4.76M436.90 403.71l6.10 -4.76M436.90 406.41l6.10 -4.76M436.90 409.11l6.10 -4.76M436.90 411.81l6.10 -4.76M436.90 414.51l6.10 -4.76M436.90 417.21l6.10 -4.76M436.90 419.91l6.10 -4.76M436.90 422.61l6.10 -4.76M436.90 425.31l6.10 -4.76M436.90 428.01l6.10 -4.76M436.90 430.71l6.10 -4.76M436.90 433.41l6.10 -4.76" clip-path="url(#c25)" stroke="#000" stroke-width="0.95" fill="none"/><rect x="437.40" y="395.52" width="5.10" height="33.48" fill="none" stroke="#000" stroke-width="0.6"/>
<clipPath id="c26"><rect x="453.05" y="416.26" width="5.10" height="12.74"/></clipPath><rect x="453.05" y="416.26" width="5.10" height="12.74" fill="#fff"/><path d="M452.55 416.35l6.10 -4.76M452.55 419.05l6.10 -4.76M452.55 421.75l6.10 -4.76M452.55 424.45l6.10 -4.76M452.55 427.15l6.10 -4.76M452.55 429.85l6.10 -4.76M452.55 432.55l6.10 -4.76M452.55 435.25l6.10 -4.76" clip-path="url(#c26)" stroke="#000" stroke-width="0.95" fill="none"/><rect x="453.05" y="416.26" width="5.10" height="12.74" fill="none" stroke="#000" stroke-width="0.6"/>
<clipPath id="c27"><rect x="468.70" y="428.28" width="5.10" height="0.72"/></clipPath><rect x="468.70" y="428.28" width="5.10" height="0.72" fill="#fff"/><path d="M468.20 428.37l6.10 -4.76M468.20 431.07l6.10 -4.76M468.20 433.77l6.10 -4.76" clip-path="url(#c27)" stroke="#000" stroke-width="0.95" fill="none"/><rect x="468.70" y="428.28" width="5.10" height="0.72" fill="none" stroke="#000" stroke-width="0.6"/>
<clipPath id="c28"><rect x="484.35" y="424.24" width="5.10" height="4.76"/></clipPath><rect x="484.35" y="424.24" width="5.10" height="4.76" fill="#fff"/><path d="M483.85 424.33l6.10 -4.76M483.85 427.03l6.10 -4.76M483.85 429.73l6.10 -4.76M483.85 432.43l6.10 -4.76M483.85 435.13l6.10 -4.76" clip-path="url(#c28)" stroke="#000" stroke-width="0.95" fill="none"/><rect x="484.35" y="424.24" width="5.10" height="4.76" fill="none" stroke="#000" stroke-width="0.6"/>
<clipPath id="c29"><rect x="500.00" y="425.50" width="5.10" height="3.50"/></clipPath><rect x="500.00" y="425.50" width="5.10" height="3.50" fill="#fff"/><path d="M499.50 425.59l6.10 -4.76M499.50 428.29l6.10 -4.76M499.50 430.99l6.10 -4.76M499.50 433.69l6.10 -4.76" clip-path="url(#c29)" stroke="#000" stroke-width="0.95" fill="none"/><rect x="500.00" y="425.50" width="5.10" height="3.50" fill="none" stroke="#000" stroke-width="0.6"/>
</g>
</svg></body></html>
